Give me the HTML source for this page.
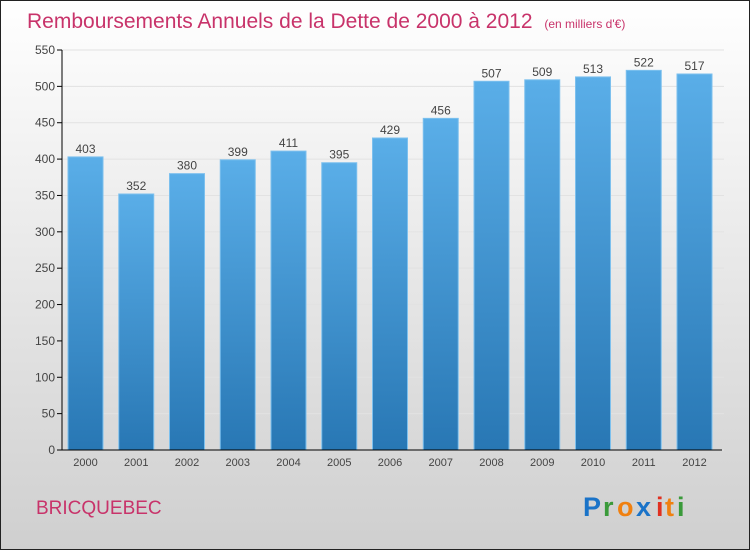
<!DOCTYPE html>
<html><head><meta charset="utf-8"><style>
body{margin:0;width:750px;height:550px;overflow:hidden;font-family:"Liberation Sans",sans-serif}
</style></head><body>
<svg id="c" width="750" height="550" xmlns="http://www.w3.org/2000/svg">
<defs>
<linearGradient id="bg" x1="0" y1="0" x2="0" y2="1"><stop offset="0" stop-color="#ffffff"/><stop offset="1" stop-color="#cfcfcf"/></linearGradient>
<linearGradient id="bar" x1="0" y1="0" x2="0" y2="1"><stop offset="0" stop-color="#5aaee8"/><stop offset="1" stop-color="#2877b4"/></linearGradient>
</defs>
<rect x="0.5" y="0.5" width="749" height="549" fill="url(#bg)" stroke="#222"/>
<text x="27" y="28" font-size="21" fill="#c8336a">Remboursements Annuels de la Dette de 2000 à 2012 <tspan font-size="12" dx="6">(en milliers d'€)</tspan></text>
<g id="grid"></g><g id="bars"></g><g id="axes"></g>
<text x="36" y="514" font-size="19" fill="#c8336a">BRICQUEBEC</text>
<g font-size="27" font-weight="bold">
<text x="583" y="516" fill="#1a73c8">P</text><text x="603" y="516" fill="#3a9a3a">r</text><text x="617" y="516" fill="#f08010">o</text><text x="636" y="516" fill="#1a73c8">x</text><text x="656" y="516" fill="#e03020">i</text><text x="665" y="516" fill="#f08010">t</text><text x="677" y="516" fill="#3a9a3a">i</text>
</g>
</svg>
<script>
const years=["2000","2001","2002","2003","2004","2005","2006","2007","2008","2009","2010","2011","2012"];
const values=[403,352,380,399,411,395,429,456,507,509,513,522,517];
const ticks=[0,50,100,150,200,250,300,350,400,450,500,550];
const NS="http://www.w3.org/2000/svg";
const y=v=>450-v*400/550, x=i=>68+i*50.75;
function mk(t,a,p){const e=document.createElementNS(NS,t);for(const k in a)e.setAttribute(k,a[k]);p.appendChild(e);return e;}
const g=document.getElementById('grid'),b=document.getElementById('bars'),ax=document.getElementById('axes');
ticks.forEach(t=>{
 const l=mk('line',{x1:62,x2:724,y1:y(t),y2:y(t),stroke:'#e2e2e2'},g);
 
 
 const tk=mk('line',{x1:57,x2:62,y1:y(t),y2:y(t),stroke:'#000'},ax);
 
 
 const tx=mk('text',{x:55,y:y(t)+4,'text-anchor':'end','font-size':12,fill:'#444'},ax);
 tx.textContent=t;
 
 
});
values.forEach((v,i)=>{
 const r=mk('rect',{x:x(i),y:y(v),width:35,height:450-y(v),fill:'url(#bar)',stroke:'#7cc0ee','stroke-width':1},b);
 
 
 const lt=mk('text',{x:x(i)+17.5,y:y(v)-4,'text-anchor':'middle','font-size':12,fill:'#444'},b);
 lt.textContent=v;
 
 
 const xt=mk('text',{x:x(i)+17.5,y:466,'text-anchor':'middle','font-size':11,fill:'#444'},ax);
 xt.textContent=years[i];
 
 
});
const ya=mk('line',{x1:62,x2:62,y1:50,y2:450,stroke:'#000'},ax);


const xa=mk('line',{x1:62,x2:722,y1:450,y2:450,stroke:'#000'},ax);


</script>
</body></html>
